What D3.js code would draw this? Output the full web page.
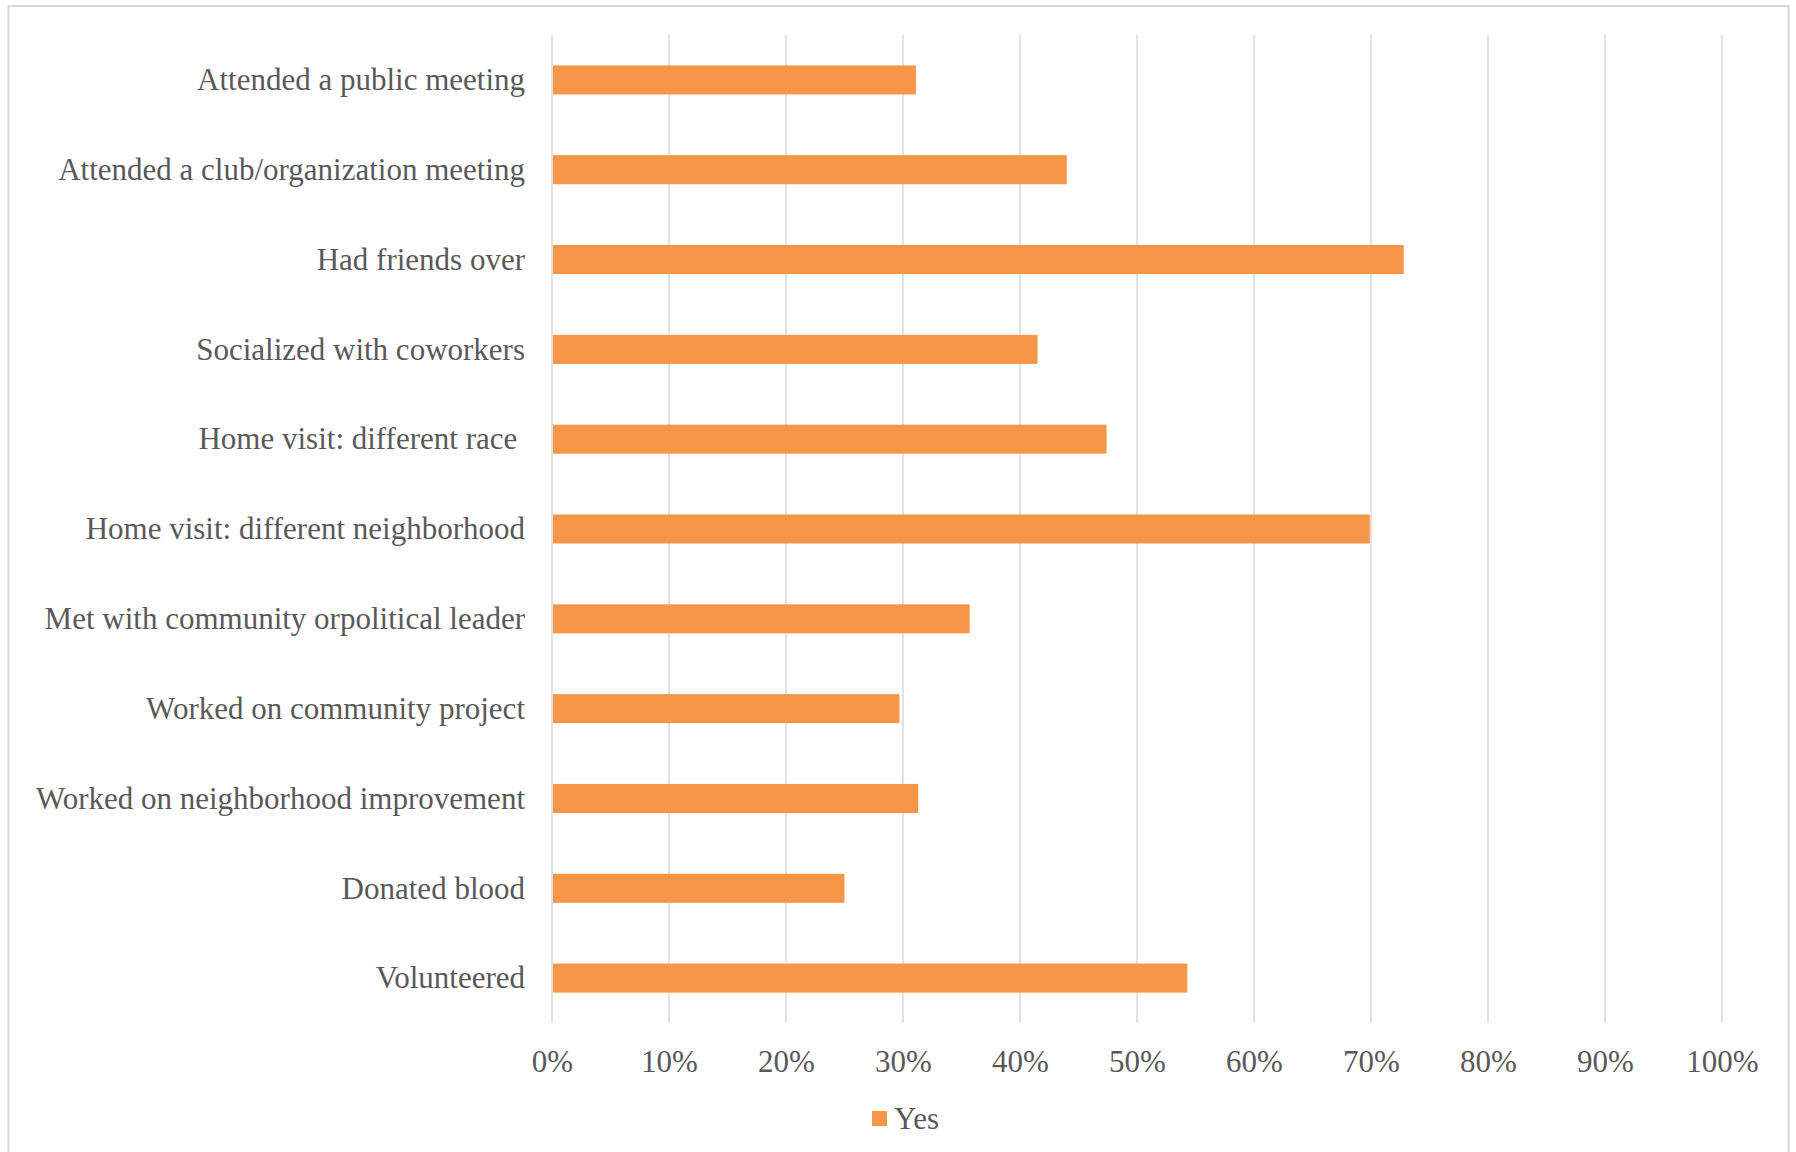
<!DOCTYPE html>
<html>
<head>
<meta charset="utf-8">
<script src="https://cdn.jsdelivr.net/npm/d3@7"></script>
<style>
  html, body { margin: 0; padding: 0; background: #fff; }
  svg text { font-family: "Liberation Serif", "DejaVu Serif", serif; fill: #595959; white-space: pre; }
</style>
</head>
<body>
<svg id="chart" width="1796" height="1152"></svg>
<script>
const categories = [
  "Attended a public meeting",
  "Attended a club/organization meeting",
  "Had friends over",
  "Socialized with coworkers",
  "Home visit: different race ",
  "Home visit: different neighborhood",
  "Met with community orpolitical leader",
  "Worked on community project",
  "Worked on neighborhood improvement",
  "Donated blood",
  "Volunteered"
];
const yesValues = [0.311, 0.440, 0.728, 0.415, 0.474, 0.699, 0.357, 0.297, 0.313, 0.250, 0.543];
const tickValues = [0, 0.1, 0.2, 0.3, 0.4, 0.5, 0.6, 0.7, 0.8, 0.9, 1.0];
const tickLabels = ["0%", "10%", "20%", "30%", "40%", "50%", "60%", "70%", "80%", "90%", "100%"];
const seriesName = "Yes";

const W = 1796, H = 1152;
const plot = { left: 552, right: 1722, top: 35, bottom: 1023 };
const svg = d3.select("#chart");
const FS = "31px";

// chart border
svg.append("rect")
  .attr("x", 8.5).attr("y", 6).attr("width", 1780).attr("height", 1152)
  .attr("fill", "#fff").attr("stroke", "#d9d9d9").attr("stroke-width", 2);

const x = d3.scaleLinear().domain([0, 1]).range([plot.left, plot.right]);
const y = d3.scaleBand().domain(categories).range([plot.top, plot.bottom])
  .paddingInner(0.677).paddingOuter(0.677 / 2);

// gridlines
svg.append("g").selectAll("line").data(tickValues).join("line")
  .attr("x1", d => x(d)).attr("x2", d => x(d))
  .attr("y1", plot.top).attr("y2", plot.bottom)
  .attr("stroke", "#d9d9d9").attr("stroke-width", 1.5);

// bars
svg.append("g").selectAll("rect").data(categories).join("rect")
  .attr("x", x(0) + 1)
  .attr("y", d => y(d))
  .attr("width", (d, i) => x(yesValues[i]) - x(0) - 1)
  .attr("height", y.bandwidth())
  .attr("fill", "#f79646");

// x axis labels
const xAxis = d3.axisBottom(x).tickValues(tickValues)
  .tickFormat((d, i) => tickLabels[i]).tickSize(0).tickPadding(0);
const gx = svg.append("g").attr("transform", `translate(0, ${plot.bottom})`).call(xAxis);
gx.select(".domain").remove();
gx.selectAll("text")
  .attr("y", 49).attr("dy", null)
  .style("font-size", FS)
  .style("font-family", "'Liberation Serif', serif")
  .attr("fill", "#595959");

// y axis labels
const yAxis = d3.axisLeft(y).tickSize(0).tickPadding(0);
const gy = svg.append("g").attr("transform", `translate(525, 0)`).call(yAxis);
gy.select(".domain").remove();
gy.selectAll("text")
  .attr("x", 0).attr("dy", "0.33em")
  .style("font-size", FS)
  .style("font-family", "'Liberation Serif', serif")
  .attr("fill", "#595959");

// legend
const lg = svg.append("g");
lg.append("rect").attr("x", 872).attr("y", 1111).attr("width", 15).attr("height", 15).attr("fill", "#f79646");
lg.append("text").attr("x", 894).attr("y", 1129).style("font-size", FS).text(seriesName);
</script>
</body>
</html>
